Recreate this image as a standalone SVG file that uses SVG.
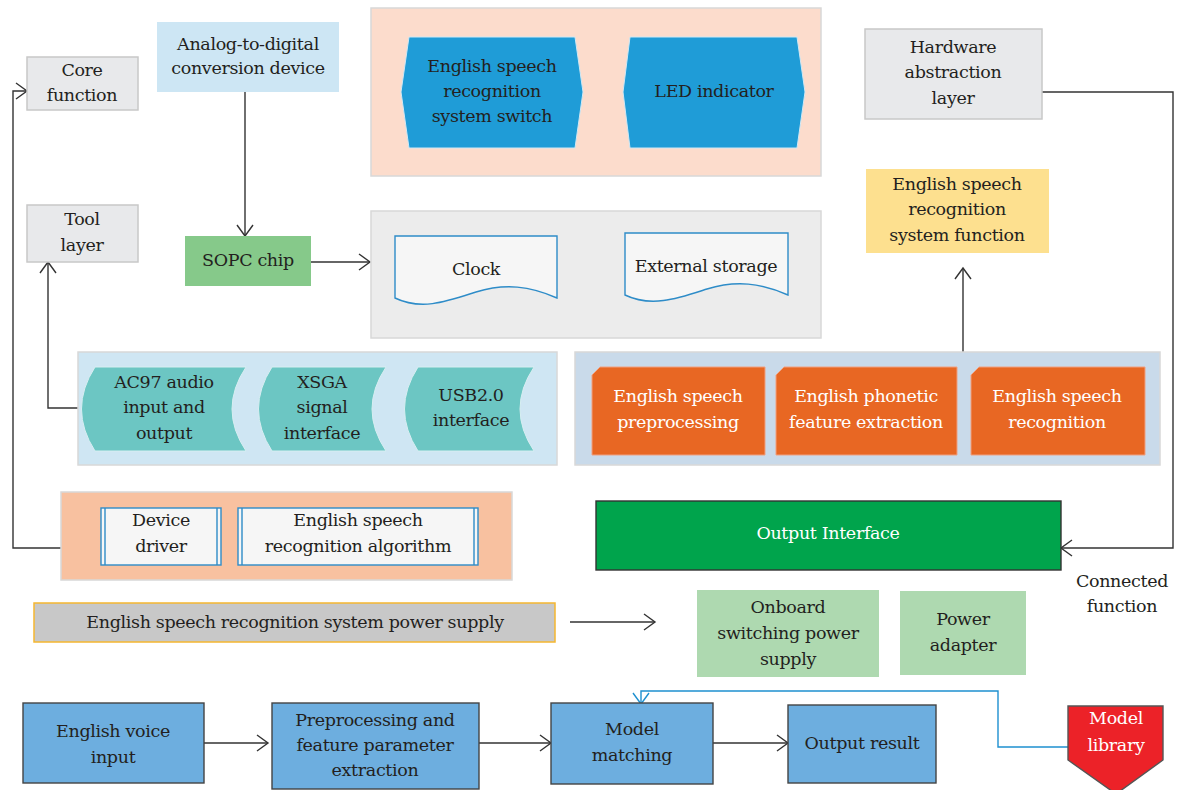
<svg xmlns="http://www.w3.org/2000/svg" width="1177" height="790" viewBox="0 0 1177 790">
<defs>
<style>
text{font-family:'DejaVu Serif','Liberation Serif',serif;font-size:17.5px;letter-spacing:-0.35px;fill:#231f20;text-anchor:middle}
.w{fill:#ffffff}
.gbox{fill:#e8e9eb;stroke:#c8c8c8;stroke-width:1.5}
.ln{fill:none;stroke:#333;stroke-width:1.4}
.bl{fill:none;stroke:#1e90d0;stroke-width:1.4}
.flow{fill:#6daedf;stroke:#444;stroke-width:1.4}
.teal{fill:#6cc6c3;stroke:#d8eef2;stroke-width:1}
.orn{fill:#e86723;stroke:#f0a080;stroke-width:1}
.hex{fill:#1f9cd7;stroke:#d0e8f4;stroke-width:1}
.doc{fill:#f6f6f6;stroke:#2e8cc8;stroke-width:1.4}
.pp{fill:#f6f6f6;stroke:#2e8cc8;stroke-width:1.4}
.lg{fill:#aed9b0}
</style>
<marker id="ah" markerWidth="14" markerHeight="18" refX="12" refY="9" orient="auto" markerUnits="userSpaceOnUse">
<path d="M1,1 L12,9 L1,17" fill="none" stroke="#333" stroke-width="1.4"/>
</marker>
<marker id="ahb" markerWidth="14" markerHeight="18" refX="12" refY="9" orient="auto" markerUnits="userSpaceOnUse">
<path d="M1,1 L12,9 L1,17" fill="none" stroke="#1e90d0" stroke-width="1.4"/>
</marker>
</defs>

<g id="connectors">
<path class="ln" d="M245,92 L245,236" marker-end="url(#ah)"/>
<path class="ln" d="M311,262 L370,262" marker-end="url(#ah)"/>
<path class="ln" d="M84,408 L48,408 L48,262" marker-end="url(#ah)"/>
<path class="ln" d="M61,548 L13,548 L13,91 L27,91" marker-end="url(#ah)"/>
<path class="ln" d="M963,352 L963,268" marker-end="url(#ah)"/>
<path class="ln" d="M1042,92 L1173,92 L1173,548 L1061,548" marker-end="url(#ah)"/>
<path class="ln" d="M570,622 L655,622" marker-end="url(#ah)"/>
<path class="ln" d="M204,743 L268,743" marker-end="url(#ah)"/>
<path class="ln" d="M479,743 L551,743" marker-end="url(#ah)"/>
<path class="ln" d="M713,743 L788,743" marker-end="url(#ah)"/>
<path class="bl" d="M1070,747 L998,747 L998,691 L641,691 L641,704" marker-end="url(#ahb)"/>
</g>

<g id="core-function">
<rect class="gbox" x="27" y="57" width="111" height="53"/>
<text x="82" y="76">Core</text><text x="82" y="101">function</text>
</g>
<g id="tool-layer">
<rect class="gbox" x="27" y="205" width="111" height="57"/>
<text x="82" y="225">Tool</text><text x="82" y="251">layer</text>
</g>
<g id="adc">
<rect x="157" y="22" width="182" height="70" fill="#cde6f4"/>
<text x="248" y="50">Analog-to-digital</text><text x="248" y="74">conversion device</text>
</g>
<g id="sopc">
<rect x="185" y="236" width="126" height="50" fill="#86c98a"/>
<text x="248" y="266">SOPC chip</text>
</g>

<g id="switch-group">
<rect x="371" y="8" width="450" height="168" fill="#fcdccc" stroke="#d8d8d8" stroke-width="1.5"/>
<g id="switch">
<path class="hex" d="M409,37 L575,37 L583,92 L575,148 L409,148 L401,92 Z"/>
<text x="492" y="72">English speech</text><text x="492" y="97">recognition</text><text x="492" y="122">system switch</text>
</g>
<g id="led">
<path class="hex" d="M630,37 L797,37 L805,92 L797,148 L630,148 L623,92 Z"/>
<text x="714" y="97">LED indicator</text>
</g>
</g>

<g id="storage-group">
<rect x="371" y="211" width="450" height="127" fill="#ececec" stroke="#d8d8d8" stroke-width="1.5"/>
<g id="clock">
<path class="doc" d="M395,236 L557,236 L557,298 C530,286 505,283 476,292 C448,301 422,311 395,298 Z"/>
<text x="476" y="275">Clock</text>
</g>
<g id="ext-storage">
<path class="doc" d="M625,233 L788,233 L788,295 C761,283 736,280 707,289 C679,298 652,308 625,295 Z"/>
<text x="706" y="272">External storage</text>
</g>
</g>

<g id="hal">
<rect class="gbox" x="865" y="29" width="177" height="90"/>
<text x="953" y="53">Hardware</text><text x="953" y="78">abstraction</text><text x="953" y="104">layer</text>
</g>
<g id="system-function">
<rect x="866" y="169" width="183" height="84" fill="#fde08f"/>
<text x="957" y="190">English speech</text><text x="957" y="215">recognition</text><text x="957" y="241">system function</text>
</g>

<g id="interface-group">
<rect x="78" y="352" width="479" height="113" fill="#cfe6f3" stroke="#d8d8d8" stroke-width="1.5"/>
<g id="ac97">
<path class="teal" d="M95,367 L246,367 Q218,409 246,451 L95,451 Q68,409 95,367 Z"/>
<text x="164" y="388">AC97 audio</text><text x="164" y="413">input and</text><text x="164" y="439">output</text>
</g>
<g id="xsga">
<path class="teal" d="M272,367 L386,367 Q358,409 386,451 L272,451 Q245,409 272,367 Z"/>
<text x="322" y="388">XSGA</text><text x="322" y="413">signal</text><text x="322" y="439">interface</text>
</g>
<g id="usb">
<path class="teal" d="M418,367 L534,367 Q506,409 534,451 L418,451 Q391,409 418,367 Z"/>
<text x="471" y="401">USB2.0</text><text x="471" y="426">interface</text>
</g>
</g>

<g id="processing-group">
<rect x="575" y="352" width="585" height="113" fill="#c9daea" stroke="#d8d8d8" stroke-width="1.5"/>
<g id="preprocessing">
<path class="orn" d="M600,367 L765,367 L765,455 L592,455 L592,375 Z"/>
<text class="w" x="678" y="402">English speech</text><text class="w" x="678" y="428">preprocessing</text>
</g>
<g id="feature">
<path class="orn" d="M784,367 L957,367 L957,455 L776,455 L776,375 Z"/>
<text class="w" x="866" y="402">English phonetic</text><text class="w" x="866" y="428">feature extraction</text>
</g>
<g id="recognition">
<path class="orn" d="M979,367 L1145,367 L1145,455 L971,455 L971,375 Z"/>
<text class="w" x="1057" y="402">English speech</text><text class="w" x="1057" y="428">recognition</text>
</g>
</g>

<g id="software-group">
<rect x="61" y="492" width="451" height="88" fill="#f8c1a0" stroke="#d8d8d8" stroke-width="1.5"/>
<g id="device-driver">
<rect class="pp" x="101" y="508" width="120" height="57"/>
<line x1="105" y1="508" x2="105" y2="565" stroke="#2e8cc8" stroke-width="1.4"/>
<line x1="217" y1="508" x2="217" y2="565" stroke="#2e8cc8" stroke-width="1.4"/>
<text x="161" y="526">Device</text><text x="161" y="552">driver</text>
</g>
<g id="algorithm">
<rect class="pp" x="238" y="508" width="240" height="57"/>
<line x1="242" y1="508" x2="242" y2="565" stroke="#2e8cc8" stroke-width="1.4"/>
<line x1="474" y1="508" x2="474" y2="565" stroke="#2e8cc8" stroke-width="1.4"/>
<text x="358" y="526">English speech</text><text x="358" y="552">recognition algorithm</text>
</g>
</g>

<g id="output-interface">
<rect x="596" y="501" width="465" height="69" fill="#00a44c" stroke="#333" stroke-width="1.4"/>
<text class="w" x="828" y="539">Output Interface</text>
</g>
<g id="connected-function-label">
<text x="1122" y="587">Connected</text><text x="1122" y="612">function</text>
</g>

<g id="power-supply">
<rect x="34" y="603" width="521" height="39" fill="#c8c8c8" stroke="#f5b731" stroke-width="1.5"/>
<text x="295" y="628">English speech recognition system power supply</text>
</g>
<g id="onboard">
<rect class="lg" x="697" y="590" width="182" height="87"/>
<text x="788" y="613">Onboard</text><text x="788" y="639">switching power</text><text x="788" y="665">supply</text>
</g>
<g id="adapter">
<rect class="lg" x="900" y="591" width="126" height="84"/>
<text x="963" y="625">Power</text><text x="963" y="651">adapter</text>
</g>

<g id="voice-input">
<rect class="flow" x="23" y="703" width="181" height="80"/>
<text x="113" y="737">English voice</text><text x="113" y="763">input</text>
</g>
<g id="preproc-feature">
<rect class="flow" x="272" y="703" width="207" height="86"/>
<text x="375" y="726">Preprocessing and</text><text x="375" y="751">feature parameter</text><text x="375" y="776">extraction</text>
</g>
<g id="model-matching">
<rect class="flow" x="551" y="703" width="162" height="81"/>
<text x="632" y="735">Model</text><text x="632" y="761">matching</text>
</g>
<g id="output-result">
<rect class="flow" x="788" y="705" width="148" height="78"/>
<text x="862" y="749">Output result</text>
</g>
<g id="model-library">
<path d="M1068,706 L1163,706 L1163,760 L1116,794 L1068,760 Z" fill="#ec2228" stroke="#555" stroke-width="1.4"/>
<text class="w" x="1116" y="724">Model</text><text class="w" x="1116" y="751">library</text>
</g>
</svg>
